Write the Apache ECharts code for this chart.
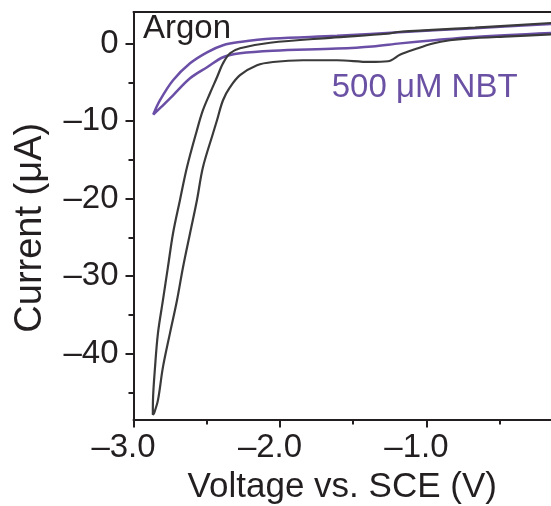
<!DOCTYPE html>
<html><head><meta charset="utf-8">
<script src="https://cdn.jsdelivr.net/npm/echarts@6/dist/echarts.min.js"></script>
<style>html,body{margin:0;padding:0;background:#fff}#c{width:551px;height:506px}</style>
</head><body><div id="c"></div>
<script>
// Argon CV loop (V vs SCE, current in µA)
const argonV = [-0.15, -0.669, -1.178, -1.270, -1.659, -2.068, -2.273, -2.341, -2.389, -2.430, -2.478, -2.526, -2.567, -2.635, -2.683, -2.730, -2.765, -2.799, -2.833, -2.853, -2.867, -2.868,
  -2.858, -2.833, -2.799, -2.751, -2.703, -2.662, -2.614, -2.567, -2.526, -2.457, -2.430, -2.389, -2.341, -2.273, -2.157, -2.048, -1.843, -1.611, -1.386, -1.263, -1.178, -1.079, -0.956, -0.840, -0.724, -0.43, -0.15];
const argonI = [2.68, 2.09, 1.55, 1.29, 0.77, 0.13, -0.58, -1.23, -2.52, -4.32, -6.39, -8.58, -11.16, -15.94, -20.19, -24.45, -28.84, -33.10, -37.35, -41.74, -46.0, -47.9,
  -47.6, -46.0, -41.74, -37.35, -33.10, -28.84, -24.45, -20.19, -15.94, -11.55, -9.87, -7.29, -5.61, -4.06, -2.77, -2.35, -2.13, -2.13, -2.35, -2.26, -1.40, -0.71, 0.03, 0.45, 0.67, 0.95, 1.20];
// 500 µM NBT CV loop
const nbtV = [-0.15, -0.669, -1.157, -1.611, -2.048, -2.273, -2.389, -2.498, -2.614, -2.730, -2.819, -2.865,
  -2.819, -2.730, -2.614, -2.498, -2.389, -2.273, -2.048, -1.611, -1.37, -1.18, -0.95, -0.70, -0.15];
const nbtI = [2.55, 2.00, 1.52, 1.03, 0.67, 0.23, -0.19, -1.10, -2.52, -4.71, -7.29, -9.14,
  -8.32, -6.65, -4.45, -3.03, -1.74, -1.23, -0.90, -0.62, -0.35, 0.05, 0.45, 0.85, 1.39];

const xMajorTicks = [-3, -2, -1];
const xMinorTicks = [-2.5, -1.5, -0.5];
const yMajorTicks = [0, -10, -20, -30, -40];
const yMinorTicks = [-5, -15, -25, -35, -45];
const xRange = [-3.0, -0.15];
const yRange = [-48.5, 4.1];

const FONT = '"Liberation Sans", Arial, sans-serif';
const AX = '#231f20';
const GRAY = '#3a3a3a';
const PURPLE = '#6b4fa6';

function fmt(v, d) {
  const s = Math.abs(v).toFixed(d);
  return v < 0 ? '\u2013' + s : s;
}

const chart = echarts.init(document.getElementById('c'), null, {renderer: 'canvas'});
chart.setOption({
  animation: false,
  backgroundColor: '#fff',
  grid: {left: 133.5, right: 0, top: 12, bottom: 86.5, outerBoundsMode: 'none', containLabel: false},
  xAxis: [
    {type: 'value', min: xRange[0], max: xRange[1], position: 'bottom',
     axisLine: {show: true, onZero: false, lineStyle: {color: AX, width: 2}},
     axisTick: {show: true, length: 8, customValues: xMajorTicks, lineStyle: {color: AX, width: 2}},
     axisLabel: {customValues: xMajorTicks, formatter: v => fmt(v, 1), fontSize: 33, fontFamily: FONT, color: AX, margin: 12, padding: [0, 20, 0, 0]},
     splitLine: {show: false},
     name: 'Voltage vs. SCE (V)', nameLocation: 'middle', nameGap: 48,
     nameTextStyle: {fontSize: 35, fontFamily: FONT, color: AX}},
    {type: 'value', min: xRange[0], max: xRange[1], position: 'bottom',
     axisLine: {show: false, onZero: false},
     axisTick: {show: true, length: 5, customValues: xMinorTicks, lineStyle: {color: AX, width: 2}},
     axisLabel: {show: false}, splitLine: {show: false}},
    {type: 'value', min: xRange[0], max: xRange[1], position: 'top',
     axisLine: {show: true, onZero: false, lineStyle: {color: AX, width: 2}},
     axisTick: {show: false}, axisLabel: {show: false}, splitLine: {show: false}}
  ],
  yAxis: [
    {type: 'value', min: yRange[0], max: yRange[1], position: 'left',
     axisLine: {show: true, onZero: false, lineStyle: {color: AX, width: 2}},
     axisTick: {show: true, length: 8, customValues: yMajorTicks, lineStyle: {color: AX, width: 2}},
     axisLabel: {customValues: yMajorTicks, formatter: v => fmt(v, 0), fontSize: 33, fontFamily: FONT, color: AX, margin: 15},
     splitLine: {show: false},
     name: 'Current (\u03bcA)', nameLocation: 'middle', nameGap: 84, nameRotate: 90,
     nameTextStyle: {fontSize: 38, fontFamily: FONT, color: AX, padding: [0, 24, 0, 0]}},
    {type: 'value', min: yRange[0], max: yRange[1], position: 'left',
     axisLine: {show: false, onZero: false},
     axisTick: {show: true, length: 5, customValues: yMinorTicks, lineStyle: {color: AX, width: 2}},
     axisLabel: {show: false}, splitLine: {show: false}}
  ],
  series: [
    {type: 'line', name: '500 \u03bcM NBT', xAxisIndex: 0, yAxisIndex: 0,
     data: nbtV.map((v, i) => [v, nbtI[i]]), showSymbol: false, smooth: 0.35,
     lineStyle: {color: PURPLE, width: 2.5}, z: 2},
    {type: 'line', name: 'Argon', xAxisIndex: 0, yAxisIndex: 0,
     data: argonV.map((v, i) => [v, argonI[i]]), showSymbol: false, smooth: 0.35,
     lineStyle: {color: GRAY, width: 2.2}, z: 3}
  ],
  graphic: [
    {type: 'text', x: 143, y: 28.6, z: 10,
     style: {text: 'Argon', fontSize: 33, fontFamily: FONT, fill: AX, textAlign: 'left', textVerticalAlign: 'middle'}},
    {type: 'text', x: 331.7, y: 88, z: 10,
     style: {text: '500 \u03bcM NBT', fontSize: 33, fontFamily: FONT, fill: '#6a51a3', textAlign: 'left', textVerticalAlign: 'middle'}}
  ]
});
</script>
</body></html>
